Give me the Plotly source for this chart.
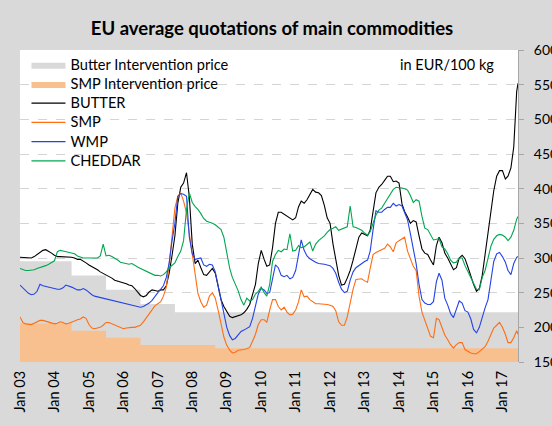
import pandas as pd
import plotly.graph_objs as go

# monthly readings Jan 2003 .. Jun 2017, plus the last weekly quote mid-June 2017
dates = [d.strftime('%Y-%m-%d') for d in pd.date_range('2003-01-01', '2017-06-01', freq='MS')]
dates.append('2017-06-15')

butter = [
    301, 301, 301, 300, 300, 302, 305, 309, 311, 312, 310, 307,
    304, 302, 302, 302, 301, 301, 301, 300, 298, 298, 296, 293,
    290, 288, 286, 283, 280, 278, 276, 273, 271, 268, 267, 265,
    264, 263, 261, 260, 256, 250, 246, 244, 246, 251, 254, 253,
    252, 254, 254, 260, 278, 304, 332, 379, 402, 408, 423, 388,
    320, 292, 297, 286, 276, 275, 280, 285, 278, 258, 240, 230,
    222, 216, 214, 215, 216, 218, 221, 226, 233, 248, 262, 292,
    311, 298, 288, 290, 315, 350, 366, 366, 363, 361, 357, 355,
    358, 374, 382, 379, 384, 392, 399, 395, 394, 390, 376, 358,
    350, 320, 295, 275, 261, 262, 271, 282, 297, 313, 330, 336,
    334, 332, 340, 365, 394, 402, 406, 412, 418, 418, 410, 411,
    408, 378, 367, 359, 350, 354, 352, 332, 313, 307, 305, 297,
    290, 318, 330, 322, 307, 300, 292, 283, 286, 300, 304, 299,
    287, 273, 262, 252, 256, 275, 305, 338, 367, 397, 418, 426,
    426, 414, 418, 430, 460, 540, 552,
]

smp = [
    215, 207, 205, 204, 204, 206, 208, 210, 210, 209, 207, 206,
    205, 206, 208, 207, 205, 206, 207, 209, 211, 212, 215, 213,
    204, 199, 198, 199, 200, 203, 207, 207, 205, 204, 201, 200,
    198, 199, 200, 200, 200, 201, 203, 208, 214, 220, 226, 231,
    234, 237, 245, 258, 290, 335, 372, 389, 394, 382, 365, 335,
    305, 272, 249, 237, 229, 232, 245, 250, 242, 225, 203, 186,
    174, 167, 163, 164, 167, 167, 168, 169, 171, 180, 190, 204,
    211, 211, 207, 225, 240, 240, 230, 225, 229, 222, 218, 219,
    225, 237, 254, 244, 245, 240, 237, 234, 234, 234, 233, 233,
    232, 230, 224, 208, 203, 203, 215, 235, 255, 269, 270, 270,
    267, 265, 285, 305, 308, 310, 312, 314, 320, 316, 309, 322,
    325, 328, 330, 310, 298, 288, 282, 245, 222, 210, 197, 187,
    185, 213, 211, 201, 189, 182, 175, 170, 175, 178, 178, 168,
    165, 163, 162, 162, 165, 168, 172, 180, 190, 199, 203, 207,
    200, 190, 178, 178, 185, 195, 190,
]

wmp = [
    261, 257, 253, 249, 247, 248, 252, 262, 260, 259, 259, 257,
    256, 255, 255, 257, 261, 260, 258, 256, 254, 254, 256, 254,
    250, 247, 245, 244, 243, 241, 240, 239, 239, 238, 237, 236,
    235, 234, 233, 232, 231, 230, 229, 230, 232, 235, 239, 245,
    250, 255, 260, 272, 293, 325, 350, 389, 393, 392, 389, 330,
    306, 298, 299, 300, 290, 288, 291, 290, 280, 260, 240, 220,
    200, 188, 182, 184, 189, 194, 196, 198, 201, 213, 232, 248,
    256, 254, 249, 250, 270, 290, 286, 275, 273, 275, 270, 272,
    282, 305, 326, 311, 303, 299, 296, 294, 292, 292, 291, 290,
    289, 285, 278, 265, 255, 250, 252, 268, 280, 286, 289, 293,
    295, 297, 310, 341, 368, 366, 366, 370, 373, 373, 379, 375,
    377, 375, 366, 355, 335, 312, 292, 262, 240, 235, 233, 233,
    237, 266, 278, 268, 242, 232, 220, 214, 225, 238, 235, 224,
    222, 212, 197, 192, 200, 215, 228, 240, 265, 295, 306, 308,
    302, 294, 282, 276, 292, 301, 302,
]

cheddar = [
    285, 283, 282, 282, 282, 283, 285, 286, 288, 289, 291, 294,
    296, 309, 311, 310, 309, 308, 307, 306, 303, 301, 300, 300,
    300, 301, 300, 300, 303, 320, 303, 304, 302, 300, 297, 294,
    293, 292, 291, 292, 289, 287, 285, 283, 281, 278, 276, 275,
    275, 274, 276, 280, 286, 290, 293, 302, 310, 325, 370, 394,
    380, 374, 370, 364, 357, 353, 352, 350, 348, 345, 341, 330,
    305, 285, 272, 262, 253, 240, 232, 242, 238, 240, 248, 252,
    258, 250, 245, 262, 295, 305, 311, 309, 313, 312, 335, 310,
    311, 318, 315, 316, 320, 323, 310, 320, 325, 328, 332, 337,
    341, 343, 345, 340, 342, 344, 345, 375, 345, 344, 342, 340,
    336, 333, 338, 350, 362, 369, 372, 379, 386, 394, 399, 402,
    402, 401, 400, 398, 390, 380, 384, 382, 360, 343, 341, 333,
    326, 327, 328, 316, 313, 306, 297, 293, 294, 300, 300, 289,
    280, 273, 264, 255, 254, 272, 282, 300, 317, 327, 332, 334,
    333, 330, 325, 330, 340, 356, 360,
]

# intervention prices (step functions)
butter_iv_dates = ['2003-01-01', '2004-07-01', '2005-07-01', '2006-07-01', '2007-07-01', '2017-06-15']
butter_iv = [295.38, 274.71, 254.19, 233.57, 221.75, 221.75]
smp_iv_dates = ['2003-01-01', '2004-07-01', '2005-07-01', '2006-07-01', '2008-09-01', '2017-06-15']
smp_iv = [205.52, 195.24, 184.97, 174.69, 169.80, 169.80]

FONT = 'Lato'


def legend_name(s):
    # legend rows are spaced from the legend font size, text drawn a bit larger
    return '<span style="font-size:14.6px">%s</span>' % s


fig = go.Figure()

fig.add_trace(go.Scatter(
    x=butter_iv_dates, y=butter_iv, name=legend_name('Butter Intervention price'),
    mode='lines', line=dict(shape='hv', width=0, color='#d9d9d9'),
    fill='tozeroy', fillcolor='#d9d9d9'))
fig.add_trace(go.Scatter(
    x=smp_iv_dates, y=smp_iv, name=legend_name('SMP Intervention price'),
    mode='lines', line=dict(shape='hv', width=0, color='#f9c08f'),
    fill='tozeroy', fillcolor='#f9c08f'))

lines = [
    ('BUTTER', butter, '#000000'),
    ('SMP', smp, '#ff6d12'),
    ('WMP', wmp, '#2443e6'),
    ('CHEDDAR', cheddar, '#00a651'),
]
for name, vals, col in lines:
    fig.add_trace(go.Scatter(x=dates, y=vals, name=legend_name(name), mode='lines',
                             line=dict(color=col, width=1.1)))

fig.update_layout(
    width=552, height=426,
    margin=dict(l=20, r=34, t=50, b=64),
    paper_bgcolor='#d9d9d9',
    plot_bgcolor='#ffffff',
    font=dict(family=FONT, size=14, color='#000000'),
    title=dict(text='<b>EU average quotations of main commodities</b>',
               x=272 / 552, xref='container', xanchor='center',
               y=0.934, yanchor='middle',
               font=dict(family=FONT, size=18.5, color='#000000')),
    showlegend=True,
    legend=dict(x=0.013, y=1.0, xanchor='left', yanchor='top',
                bgcolor='rgba(0,0,0,0)', font=dict(size=12.5),
                tracegroupgap=0, itemwidth=34),
    xaxis=dict(type='date', range=['2003-01-01', '2017-06-15'],
               tick0='2003-01-01', dtick='M12', tickformat='%b %y',
               tickangle=-90, showgrid=False, zeroline=False,
               ticks='', showline=False, tickfont=dict(size=14.5),
               ticklabelstandoff=5, automargin=False),
    yaxis=dict(range=[150, 600], dtick=50, side='right',
               showgrid=True, gridcolor='#d4d4d4', griddash='dash', gridwidth=1,
               zeroline=False, showline=True, linecolor='#a6a6a6',
               ticks='outside', ticklen=5, tickcolor='#a6a6a6',
               tickfont=dict(size=14), ticklabelstandoff=7, automargin=False),
    annotations=[dict(text='in EUR/100 kg', x=0.956, y=0.952,
                      xref='paper', yref='paper', xanchor='right', yanchor='middle',
                      showarrow=False, font=dict(size=14.5))],
)

# drop the page's default body margin so the figure sits at the window origin
fig.write_html("out.html", config={'displayModeBar': False},
               post_script="document.body.style.margin = '0px';")
